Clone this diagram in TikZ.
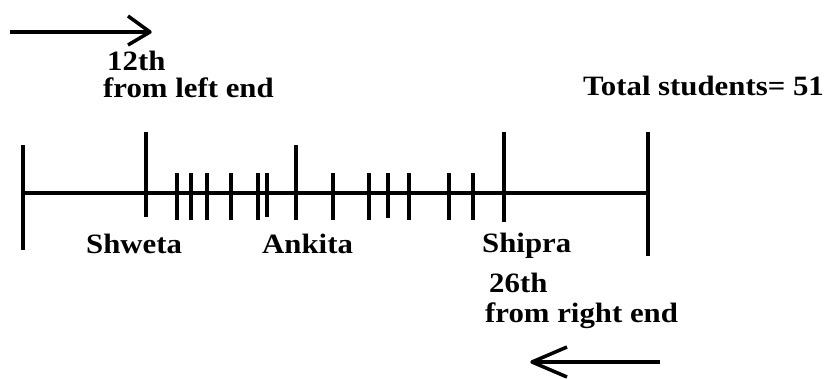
\documentclass[tikz,border=0pt]{standalone}
\usepackage{fontspec}
\setmainfont[FakeStretch=1.1]{Liberation Serif}
\begin{document}
\begin{tikzpicture}[x=1pt,y=-1pt,
  bar/.style={line width=3.5pt},
  lbl/.style={anchor=base west,inner sep=0pt,font=\bfseries\fontsize{28}{31}\selectfont},
  arr/.style={line width=3.5pt}]
\useasboundingbox (0,0) rectangle (830,378);
% main line
\coordinate (L) at (23,193);
\coordinate (R) at (650,193);
\draw[bar] (L) -- (R);
% big ticks
\draw[bar] (23,145) -- (23,250);
\draw[bar] (146,132) -- (146,217);
\draw[bar] (296,145) -- (296,220);
\draw[bar] (504,132) -- (504,222);
\draw[bar] (648,132) -- (648,256);
% small ticks
\foreach \x in {177,191,207,231,258,333,369,409,449,473} \draw[bar] (\x,173) -- (\x,220);
\draw[bar] (267,173) -- (267,217);
\draw[bar] (388,173) -- (388,218);
% labels
\node[lbl] (t12) at (107,70) {12th};
\node[lbl] (tl) at (103,97) {from left end};
\node[lbl] (tot) at (583,95) {Total students= 51};
\node[lbl] (sh) at (86,253) {Shweta};
\node[lbl] (an) at (262,253) {Ankita};
\node[lbl] (sp) at (482,252) {Shipra};
\node[lbl] (t26) at (489,292) {26th};
\node[lbl] (tr) at (485,322) {from right end};
% arrows
\coordinate (a1s) at (10,32);
\coordinate (a1e) at (150,32);
\draw[arr] (a1s) -- (a1e);
\draw[arr,line join=round] (128,16) -- (a1e) -- (128,45);
\coordinate (a2s) at (660,362);
\coordinate (a2e) at (532,362);
\draw[arr] (a2s) -- (a2e);
\draw[arr,line join=round] (567,347) -- (a2e) -- (567,377);
\end{tikzpicture}
\end{document}
